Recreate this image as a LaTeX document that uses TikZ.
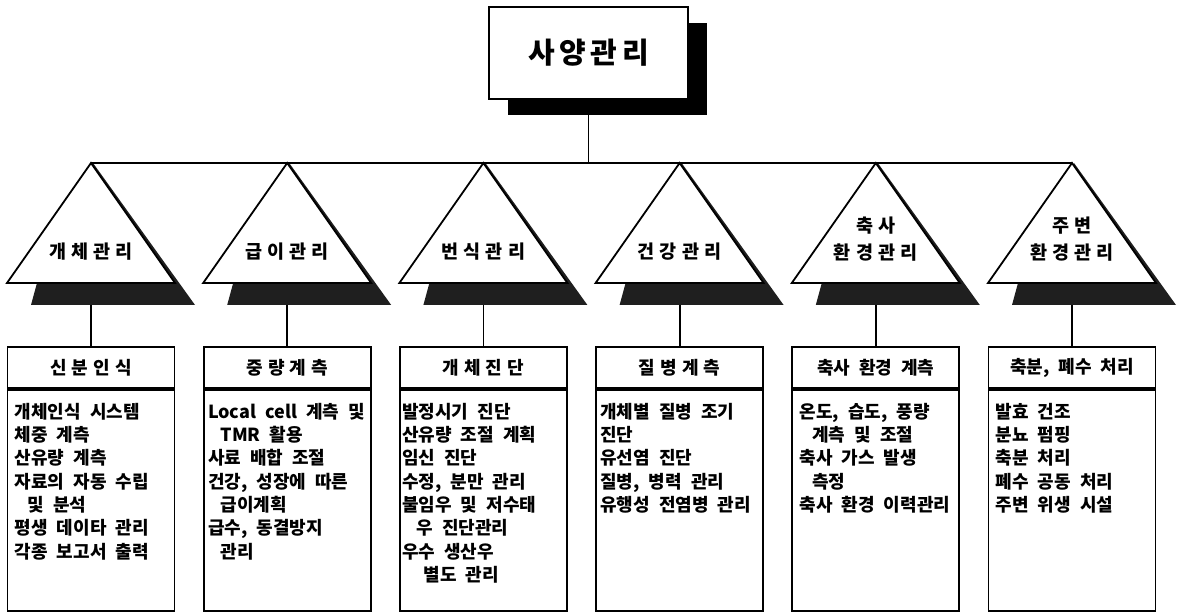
\documentclass[tikz,border=0pt]{standalone}
\usepackage{fontspec}
\setmainfont{Noto Sans CJK KR}
\newfontfamily\kbody[WordSpace=2.2]{Noto Sans CJK KR}
\newfontfamily\kwide[LetterSpace=28]{Noto Sans CJK KR}
\newfontfamily\ktop[LetterSpace=16]{Noto Sans CJK KR}
\usepackage{tikz}
\usetikzlibrary{positioning,shadows}

\begin{document}
\begin{tikzpicture}[x=1pt, y=1pt, node distance=196.2pt,
  topbox/.style={draw, fill=white, line width=1.8pt, minimum width=199pt,
    minimum height=92pt, font=\fontsize{29}{32}\ktop\bfseries,
    drop shadow={fill=black, opacity=1, shadow xshift=19pt, shadow yshift=-16pt}},
  head/.style={draw, fill=white, line width=1.8pt, minimum width=167pt,
    minimum height=41pt, font=\fontsize{18}{21}\kwide\bfseries},
  headn/.style={head, font=\fontsize{18}{21}\kbody\bfseries},
  body/.style={draw, line width=1.8pt, minimum width=167pt, minimum height=221pt},
  items/.style={align=left, inner sep=0pt, font=\fontsize{18}{23.3}\kbody\bfseries},
  tlabel/.style={align=center, inner sep=0pt, font=\fontsize{18.5}{27}\kwide\bfseries},
  tri/.style={draw, fill=white, line width=1.8pt},
  trishade/.style={fill=black!88},
  link/.style={line width=1.8pt}]
  \useasboundingbox (0,0) rectangle (1181,615);

  % top of the tree
  \node[topbox] (top) at (588.5,562) {사양관리};
  \coordinate (hub) at (0,452);

  % header boxes
  \node[head] (h1) at (91,247.5) {신분인식};
  \node[head] (h2) [right of=h1] {중량계측};
  \node[head] (h3) [right of=h2] {개체진단};
  \node[head] (h4) [right of=h3] {질병계측};
  \node[headn] (h5) [right of=h4] {축사 환경 계측};
  \node[headn] (h6) [right of=h5] {축분, 폐수 처리};

  % content boxes
  \node[body] (c1) [below=0pt of h1] {};
  \node[body] (c2) [below=0pt of h2] {};
  \node[body] (c3) [below=0pt of h3] {};
  \node[body] (c4) [below=0pt of h4] {};
  \node[body] (c5) [below=0pt of h5] {};
  \node[body] (c6) [below=0pt of h6] {};

  \node[items] (t1) [below right=14pt and 8pt of c1.north west]
    {개체인식 시스템\\체중 계측\\산유량 계측\\자료의 자동 수립\\
     \hspace*{0.7em}및 분석\\평생 데이타 관리\\각종 보고서 출력};
  \node[items] (t2) [below right=14pt and 5pt of c2.north west]
    {Local cell 계측 및\\\hspace*{0.7em}TMR 활용\\사료 배합 조절\\
     건강, 성장에 따른\\\hspace*{0.7em}급이계획\\급수, 동결방지\\
     \hspace*{0.7em}관리};
  \node[items] (t3) [below right=14pt and 3pt of c3.north west]
    {발정시기 진단\\산유량 조절 계획\\임신 진단\\수정, 분만 관리\\
     불임우 및 저수태\\\hspace*{0.8em}우 진단관리\\우수 생산우\\
     \hspace*{1.2em}별도 관리};
  \node[items] (t4) [below right=14pt and 5pt of c4.north west]
    {개체별 질병 조기\\진단\\유선염 진단\\질병, 병력 관리\\유행성 전염병 관리};
  \node[items] (t5) [below right=14pt and 8pt of c5.north west]
    {온도, 습도, 풍량\\\hspace*{0.7em}계측 및 조절\\축사 가스 발생\\
     \hspace*{0.7em}측정\\축사 환경 이력관리};
  \node[items] (t6) [below right=14pt and 8pt of c6.north west]
    {발효 건조\\분뇨 펌핑\\축분 처리\\폐수 공동 처리\\주변 위생 시설};

  % triangle tops
  \coordinate (a1) at (h1 |- hub);
  \coordinate (a2) at (h2 |- hub);
  \coordinate (a3) at (h3 |- hub);
  \coordinate (a4) at (h4 |- hub);
  \coordinate (a5) at (h5 |- hub);
  \coordinate (a6) at (h6 |- hub);

  \fill[trishade] (a1) ++(2,0) -- ++(102,-142) -- ++(-164,0) -- ++(6,22) -- cycle;
  \fill[trishade] (a2) ++(2,0) -- ++(102,-142) -- ++(-164,0) -- ++(6,22) -- cycle;
  \fill[trishade] (a3) ++(2,0) -- ++(102,-142) -- ++(-164,0) -- ++(6,22) -- cycle;
  \fill[trishade] (a4) ++(2,0) -- ++(102,-142) -- ++(-164,0) -- ++(6,22) -- cycle;
  \fill[trishade] (a5) ++(2,0) -- ++(102,-142) -- ++(-164,0) -- ++(6,22) -- cycle;
  \fill[trishade] (a6) ++(2,0) -- ++(102,-142) -- ++(-164,0) -- ++(6,22) -- cycle;

  \draw[tri] (a1) -- ++(-84,-120) -- ++(168,0) -- cycle;
  \draw[tri] (a2) -- ++(-84,-120) -- ++(168,0) -- cycle;
  \draw[tri] (a3) -- ++(-84,-120) -- ++(168,0) -- cycle;
  \draw[tri] (a4) -- ++(-84,-120) -- ++(168,0) -- cycle;
  \draw[tri] (a5) -- ++(-84,-120) -- ++(168,0) -- cycle;
  \draw[tri] (a6) -- ++(-84,-120) -- ++(168,0) -- cycle;

  \node[tlabel] (l1) at (a1 |- 0,363) {개체관리};
  \node[tlabel] (l2) at (a2 |- 0,363) {급이관리};
  \node[tlabel] (l3) at (a3 |- 0,363) {번식관리};
  \node[tlabel] (l4) at (a4 |- 0,363) {건강관리};
  \node[tlabel] (l5) at (a5 |- 0,376) {축사\\환경관리};
  \node[tlabel] (l6) at (a6 |- 0,376) {주변\\환경관리};

  % connectors
  \draw[link] (top) -- (top |- hub);
  \draw[link] (a1) -- (a6);
  \path (a1) ++(0,-142) coordinate (s1);
  \path (a2) ++(0,-142) coordinate (s2);
  \path (a3) ++(0,-142) coordinate (s3);
  \path (a4) ++(0,-142) coordinate (s4);
  \path (a5) ++(0,-142) coordinate (s5);
  \path (a6) ++(0,-142) coordinate (s6);
  \draw[link] (s1) -- (h1);
  \draw[link] (s2) -- (h2);
  \draw[link] (s3) -- (h3);
  \draw[link] (s4) -- (h4);
  \draw[link] (s5) -- (h5);
  \draw[link] (s6) -- (h6);
\end{tikzpicture}
\end{document}
